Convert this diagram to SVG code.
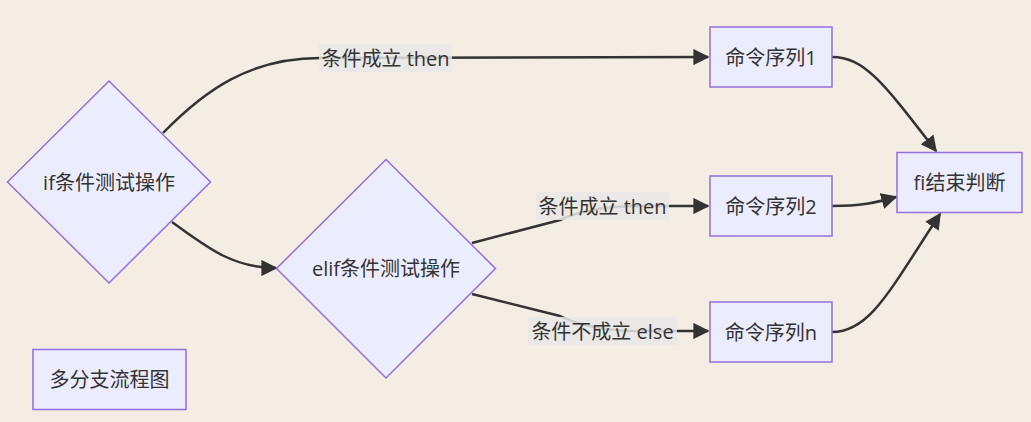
<svg xmlns="http://www.w3.org/2000/svg" width="1031" height="422" viewBox="0 0 1031 422">
<style>
.node{fill:#ECECFF;stroke:#9370DB;stroke-width:1.5}
.t{font-family:"Open Sans","Noto Sans CJK SC",sans-serif;font-size:20px;fill:#333;text-anchor:middle;dominant-baseline:central}
.e{fill:none;stroke:#333;stroke-width:2.5}
.lb{fill:#e8e8e8;opacity:0.85}
</style>
<defs>
<marker id="arr" viewBox="0 0 10 10" refX="9" refY="5" markerWidth="6.5" markerHeight="6.5" markerUnits="strokeWidth" orient="auto">
<path d="M0,0 L10,5 L0,10 z" fill="#333"/>
</marker>
</defs>
<rect width="1031" height="422" fill="#f4ede4"/>
<g id="connectors">
<path class="e" d="M163,133 C205,90 250,58 320,58 L708,57" marker-end="url(#arr)"/>
<path class="e" d="M172,222 C210,250 235,268 276,268" marker-end="url(#arr)"/>
<path class="e" d="M472,243 L560,220 Q590,206 640,206 L708,206" marker-end="url(#arr)"/>
<path class="e" d="M472,294 L560,316 Q590,331 640,331 L708,331" marker-end="url(#arr)"/>
<path class="e" d="M832,57 C865,57 885,85 936,151" marker-end="url(#arr)"/>
<path class="e" d="M832,206 C860,206 875,203 896,197" marker-end="url(#arr)"/>
<path class="e" d="M832,332 C870,332 890,290 940,214" marker-end="url(#arr)"/>
</g>
<g id="labels">
<rect class="lb" x="319" y="44" width="133" height="28"/>
<text class="t" x="385.5" y="58">条件成立 then</text>
<rect class="lb" x="536" y="192" width="133" height="28"/>
<text class="t" x="602.5" y="206">条件成立 then</text>
<rect class="lb" x="528" y="317" width="149" height="28"/>
<text class="t" x="602.5" y="331">条件不成立 else</text>
</g>
<g id="if">
<polygon class="node" points="109,81 210.5,182 109,283 7.5,182"/>
<text class="t" x="109" y="182">if条件测试操作</text>
</g>
<g id="elif">
<polygon class="node" points="386,159.5 495.5,268.5 386,378 276.5,268.5"/>
<text class="t" x="386" y="268.5">elif条件测试操作</text>
</g>
<g id="cmd1">
<rect class="node" x="710" y="27" width="122" height="60"/>
<text class="t" x="771" y="57">命令序列1</text>
</g>
<g id="cmd2">
<rect class="node" x="710" y="176" width="122" height="60"/>
<text class="t" x="771" y="206">命令序列2</text>
</g>
<g id="cmdn">
<rect class="node" x="710" y="302" width="122" height="60"/>
<text class="t" x="771" y="332">命令序列n</text>
</g>
<g id="fi">
<rect class="node" x="897" y="152.5" width="125" height="60"/>
<text class="t" x="959.5" y="182.5">fi结束判断</text>
</g>
<g id="title">
<rect class="node" x="33" y="349.5" width="153" height="60"/>
<text class="t" x="109.5" y="379.5">多分支流程图</text>
</g>
</svg>
